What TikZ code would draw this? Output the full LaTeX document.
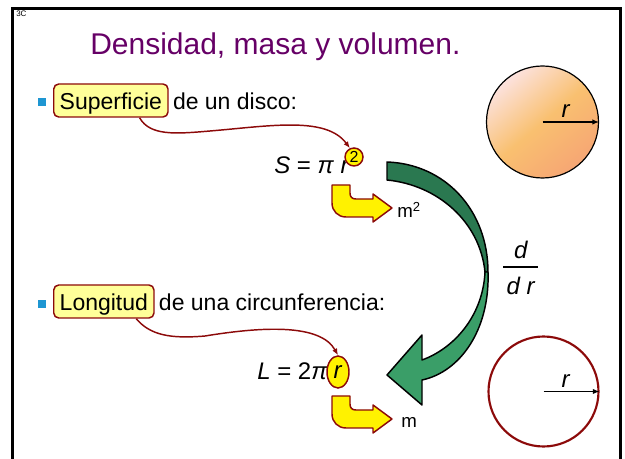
\documentclass[tikz,border=0pt]{standalone}
\usepackage{fontspec}
\setmainfont{Liberation Sans}
\usetikzlibrary{positioning,arrows.meta,shapes.geometric}

\definecolor{dred}{RGB}{140,10,10}
\definecolor{lyel}{RGB}{255,255,153}
\definecolor{ttlpurple}{RGB}{102,0,102}
\definecolor{blt}{RGB}{30,150,210}
\definecolor{gdk}{RGB}{42,120,80}
\definecolor{glt}{RGB}{58,158,104}
\definecolor{dtop}{RGB}{252,226,222}
\definecolor{dmid}{RGB}{249,192,112}
\definecolor{dbot}{RGB}{246,166,116}

\tikzset{
  txt/.style={inner sep=0pt, font=\fontsize{17.25}{20}\selectfont},
  ttl/.style={inner sep=0pt, text=ttlpurple, font=\fontsize{22.5}{26}\selectfont},
  hl/.style={txt, draw=dred, fill=lyel, line width=1.1pt, rounded corners=3.75pt,
    inner xsep=4.5pt, inner ysep=3.75pt, text height=15.75pt, text depth=1.5pt},
  eq/.style={inner sep=0pt, font=\fontsize{18}{20}\selectfont},
  unit/.style={inner sep=0pt, font=\fontsize{14}{16}\selectfont},
  ball/.style={circle, draw=dred, fill=yellow, line width=1.1pt, minimum size=13.5pt,
    inner sep=0pt, font=\fontsize{12}{12}\selectfont},
  oval/.style={ellipse, draw=dred, fill=yellow, line width=1.1pt, minimum width=16.5pt,
    minimum height=24pt, inner sep=0pt, font=\fontsize{18}{20}\selectfont},
  bullet/.style={rectangle, fill=blt, minimum size=6pt, inner sep=0pt},
  link/.style={draw=dred, line width=1.1pt, -{Latex[length=5pt,width=4pt]}},
  yarrow/.style={fill=yellow, draw=dred, line width=1.1pt, line join=round},
  garrow/.style={draw=black, line width=1.1pt, line join=round},
  rad/.style={line width=1.1pt, -{Latex[length=5pt,width=4pt]}},
  disc/.style={circle, draw=black, line width=0.9pt, minimum size=84pt, inner sep=0pt,
    top color=dtop, bottom color=dbot, middle color=dmid, shading angle=40},
  ring/.style={circle, draw=dred, line width=1.6pt, minimum size=82.5pt, inner sep=0pt},
  frame/.style={line width=2.25pt}
}

\begin{document}
\begin{tikzpicture}[x=0.75pt,y=-0.75pt]
  \useasboundingbox (0,0) rectangle (625,459);
  \draw[frame] (12,459) -- (12,9) -- (620,9) -- (620,459);
  \node[inner sep=0pt, anchor=base west, font=\fontsize{6}{6}\selectfont] (num) at (16,17) {3C};
  \node[ttl, anchor=base west] (title) at (90,55) {Densidad, masa y volumen.};

  % disco
  \node[bullet] (b1) at (42,102) {};
  \node[hl, anchor=base west] (sup) at (53,110) {Superficie};
  \node[txt, base right=3pt of sup] (sdisc) {de un disco:};
  \node[eq, anchor=base west] (eqS) at (274,174) {\textit{S} = \textit{π} \textit{r}};
  \node[ball] (two) at (354,157) {2};
  \draw[link] (sup.-31) .. controls (150,136) and (175,134) .. (210,131)
    .. controls (270,126) and (326,116) .. (two.115);

  % circunferencia
  \node[bullet] (b2) at (42,304) {};
  \node[hl, anchor=base west] (lon) at (53,311) {Longitud};
  \node[txt, base right=3pt of lon] (lcirc) {de una circunferencia:};
  \node[eq, anchor=base west] (eqL) at (257,380) {\textit{L} = 2\textit{π}};
  \node[oval] (rr) at (338,372) {\textit{r}};
  \draw[link] (lon.-28) .. controls (150,335) and (170,339) .. (205,336)
    .. controls (260,327) and (320,323) .. (rr.north);

  % flechas amarillas
  \foreach \y in {185,396}
    \filldraw[yarrow, shift={(332,\y)}] (0,0) -- (0,18) .. controls (0,26) and (6,32) .. (14,32)
      -- (41,32) -- (41,37) -- (60,23) -- (41,9) -- (41,14) -- (24,14)
      .. controls (20,14) and (18,12) .. (18,8) -- (18,0) -- cycle;
  \node[unit, anchor=base west] (m2) at (397,218) {m\textsuperscript{2}};
  \node[unit, anchor=base west] (m1) at (401,428) {m};

  % flecha verde
  \filldraw[garrow, fill=gdk] (387,162) .. controls (445,164) and (488,210) .. (488,272)
    -- (485,272) .. controls (480,222) and (438,185) .. (387,180) -- cycle;
  \filldraw[garrow, fill=glt] (488,272) .. controls (490,330) and (460,372) .. (422,380)
    -- (422,405) -- (387,375) -- (422,335) -- (422,360)
    .. controls (455,348) and (483,315) .. (485,272) -- cycle;
  \node[eq] (dnum) at (521,250) {\textit{d}};
  \node[eq] (dden) at (521,286) {\textit{d r}};
  \draw[line width=1.1pt] (503,267) -- (538,267);

  % circulos
  \node[disc] (d1) at (542.5,122) {};
  \draw[rad] (d1.center) -- (d1.east);
  \node[eq, anchor=base] (r1) at (566,118) {\textit{r}};
  \node[ring] (d2) at (543.5,391.5) {};
  \draw[rad] (d2.center) -- (d2.east);
  \node[eq, anchor=base] (r2) at (566,388) {\textit{r}};
\end{tikzpicture}
\end{document}
